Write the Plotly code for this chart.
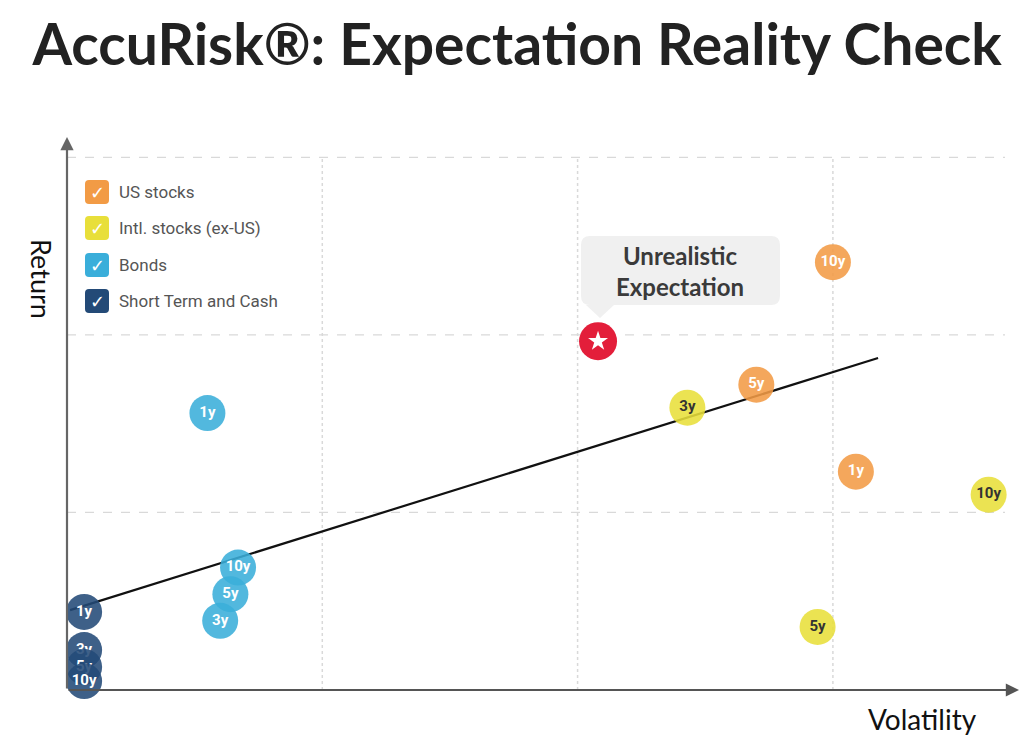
import plotly.graph_objects as go

# ---------------- data ----------------
us_labels = ["10y", "5y", "1y"]
us_vol = [3.00, 2.70, 3.09]
us_ret = [2.41, 1.72, 1.23]

intl_labels = ["3y", "10y", "5y"]
intl_vol = [2.43, 3.61, 2.94]
intl_ret = [1.59, 1.10, 0.355]

bond_labels = ["1y", "10y", "5y", "3y"]
bond_vol = [0.55, 0.67, 0.64, 0.60]
bond_ret = [1.56, 0.69, 0.54, 0.39]

cash_labels = ["1y", "3y", "5y", "10y"]
cash_vol = [0.067, 0.067, 0.067, 0.067]
cash_ret = [0.44, 0.225, 0.13, 0.05]

star_vol = [2.08]
star_ret = [1.965]

trend_vol = [0.012, 3.177]
trend_ret = [0.45, 1.87]

legend_names = ["US stocks", "Intl. stocks (ex-US)", "Bonds", "Short Term and Cash"]
legend_colors = ["#F29B45", "#E8DF3A", "#3AAEDA", "#234A77"]

grid_x = [1, 2, 3]
grid_y = [1, 2, 3]

# ---------------- geometry helpers ----------------
L, R, T, B = 67, 6, 137, 53
W, H = 1024, 743
XMAX, YMAX = 3.725, 3.115
pw, ph = W - L - R, H - T - B


def dx(px):
    return (px - L) / pw * XMAX


def dy(py):
    return (H - B - py) / ph * YMAX


fig = go.Figure()

# grid lines
for gy in grid_y:
    fig.add_shape(type="line", x0=0, x1=dx(1005), y0=gy, y1=gy,
                  line=dict(color="#D9D9D9", width=1.3, dash="dash"), layer="below")
for gx in grid_x:
    fig.add_shape(type="line", x0=gx, x1=gx, y0=0, y1=3,
                  line=dict(color="#D9D9D9", width=1.5, dash="dot"), layer="below")

# trend line
fig.add_trace(go.Scatter(x=trend_vol, y=trend_ret, mode="lines",
                         line=dict(color="#111111", width=2.2), hoverinfo="skip"))


def bubbles(xs, ys, labels, color, tcolor):
    # one trace per bubble so later bubbles cover earlier labels
    for x, y, lab in zip(xs, ys, labels):
        fig.add_trace(go.Scatter(
            x=[x], y=[y], mode="markers+text", text=[lab],
            textposition="middle center",
            textfont=dict(family="Roboto", size=15, color=tcolor, weight="bold"),
            marker=dict(size=36, color=color, opacity=0.88, line=dict(width=0)),
            cliponaxis=False, hoverinfo="skip"))


bubbles(cash_vol, cash_ret, cash_labels, legend_colors[3], "white")
bubbles(bond_vol, bond_ret, bond_labels, legend_colors[2], "white")
bubbles(intl_vol, intl_ret, intl_labels, legend_colors[1], "#333333")
bubbles(us_vol, us_ret, us_labels, legend_colors[0], "white")

# star
fig.add_trace(go.Scatter(x=star_vol, y=star_ret, mode="markers",
                         marker=dict(size=38, color="#E31E3A", line=dict(width=0)),
                         cliponaxis=False, hoverinfo="skip"))
fig.add_trace(go.Scatter(x=star_vol, y=star_ret, mode="markers",
                         marker=dict(size=15, color="white", symbol="star", line=dict(width=0)),
                         cliponaxis=False, hoverinfo="skip"))

# callout box (rounded rect + pointer)
bx0, bx1, by0, by1 = 581, 780, 236, 305
r = 9
rx, ry = dx(bx0 + r) - dx(bx0), dy(by0) - dy(by0 + r)
X0, X1, Y0, Y1 = dx(bx0), dx(bx1), dy(by1), dy(by0)
path = (f"M {X0+rx},{Y1} L {X1-rx},{Y1} Q {X1},{Y1} {X1},{Y1-ry} "
        f"L {X1},{Y0+ry} Q {X1},{Y0} {X1-rx},{Y0} "
        f"L {dx(614)},{Y0} L {dx(600)},{dy(318)} L {dx(586)},{Y0} "
        f"L {X0+rx},{Y0} Q {X0},{Y0} {X0},{Y0+ry} L {X0},{Y1-ry} Q {X0},{Y1} {X0+rx},{Y1} Z")
fig.add_shape(type="path", path=path, fillcolor="#F0F0F0", line=dict(width=0), layer="below")
fig.add_annotation(x=dx(680), y=dy(271), text="<b>Unrealistic<br>Expectation</b>",
                   showarrow=False, font=dict(family="Lato", size=24, color="#3A3A3A"),
                   align="center", xanchor="center", yanchor="middle")

# axes with arrows
fig.add_annotation(x=0, y=dy(137), ax=0, ay=0, xref="x", yref="y", axref="x", ayref="y",
                   showarrow=True, arrowhead=2, arrowsize=1.2, arrowwidth=2.2,
                   arrowcolor="#666666", text="")
fig.add_annotation(x=dx(1019), y=0, ax=0, ay=0, xref="x", yref="y", axref="x", ayref="y",
                   showarrow=True, arrowhead=2, arrowsize=1.2, arrowwidth=2.2,
                   arrowcolor="#555555", text="")

# custom legend
leg_y = [192, 228, 265, 301]
for name, col, py in zip(legend_names, legend_colors, leg_y):
    fig.add_shape(type="path", xsizemode="pixel", ysizemode="pixel",
                  xanchor=dx(97), yanchor=dy(py),
                  path="M -8,-12 L 8,-12 Q 12,-12 12,-8 L 12,8 Q 12,12 8,12 L -8,12 Q -12,12 -12,8 L -12,-8 Q -12,-12 -8,-12 Z",
                  fillcolor=col, line=dict(width=0))
    fig.add_annotation(x=dx(97), y=dy(py), text="✓", showarrow=False,
                       font=dict(family="DejaVu Sans", size=18, color="white"))
    fig.add_annotation(x=dx(117), y=dy(py), text=name, showarrow=False, xanchor="left",
                       font=dict(family="Roboto", size=17, color="#555555"))

# axis titles
fig.add_annotation(xref="paper", yref="paper", x=(42 - L) / pw, y=(H - B - 279) / ph,
                   xanchor="center", yanchor="middle",
                   text="Return", textangle=90, showarrow=False,
                   font=dict(family="Lato", size=27, color="#111111"))
fig.add_annotation(xref="paper", yref="paper", x=(922 - L) / pw, y=(H - B - 719) / ph,
                   xanchor="center", yanchor="middle",
                   text="Volatility", showarrow=False,
                   font=dict(family="Lato", size=28, color="#111111"))

fig.update_layout(
    width=W, height=H,
    margin=dict(l=L, r=R, t=T, b=B),
    paper_bgcolor="white", plot_bgcolor="white",
    showlegend=False,
    title=dict(text="<b>AccuRisk®: Expectation Reality Check</b>",
               x=0.505, xref="container", xanchor="center",
               y=1 - 45 / H, yref="container", yanchor="middle",
               font=dict(family="Lato", size=57, color="#222222")),
    xaxis=dict(range=[0, XMAX], showgrid=False, zeroline=False, showticklabels=False,
               ticks="", showline=False, fixedrange=True),
    yaxis=dict(range=[0, YMAX], showgrid=False, zeroline=False, showticklabels=False,
               ticks="", showline=False, fixedrange=True),
)

fig.write_html("out.html")
